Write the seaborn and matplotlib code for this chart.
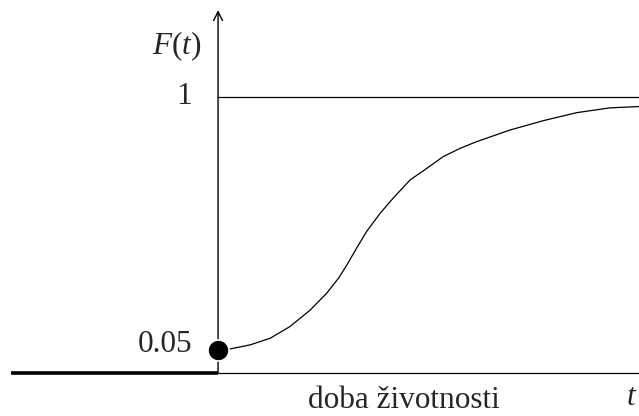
import matplotlib
matplotlib.use("Agg")
import matplotlib.pyplot as plt
import seaborn as sns
import pandas as pd

# curve (t in arbitrary units, F in probability)
t_vals = [0.0, 0.29, 0.76, 1.24, 1.71, 2.19, 2.58, 2.86, 3.06, 3.29, 3.53, 3.85, 4.16,
          4.56, 4.96, 5.35, 5.75, 6.14, 6.94, 7.73, 8.52, 9.31, 10.0]
F_vals = [0.05, 0.054, 0.069, 0.094, 0.138, 0.200, 0.263, 0.319, 0.369, 0.432, 0.495, 0.563, 0.620,
          0.688, 0.732, 0.776, 0.807, 0.832, 0.876, 0.911, 0.941, 0.959, 0.964]
start_value = 0.05
upper_value = 1.0
ytick_labels = ["0.05", "1"]
xlabel_text = "doba životnosti"

sns.set_theme(style="white")
plt.rcParams["font.family"] = ["Liberation Serif", "DejaVu Serif"]
plt.rcParams["mathtext.fontset"] = "custom"
plt.rcParams["mathtext.rm"] = "Liberation Serif"
plt.rcParams["mathtext.it"] = "Liberation Serif:italic"

df = pd.DataFrame({"t": t_vals, "F": F_vals})

fig = plt.figure(figsize=(6.39, 4.16), dpi=100)
ax = fig.add_axes([0, 0, 1, 1])
ax.set_axis_off()

x_min, x_max = -5.18, 10.0
y_min, y_max = -0.198, 1.364
ax.set_xlim(x_min, x_max)
ax.set_ylim(y_min, y_max)
y_base = -0.0364

# main curve and starting point
sns.lineplot(data=df, x="t", y="F", color="black", linewidth=0.9, ax=ax)
sns.scatterplot(x=[0.0], y=[start_value], color="black", s=230, ax=ax, zorder=5)

# horizontal axis: thick part left of zero, thin part right of it
ax.plot([-4.92, 0], [y_base, y_base], color="black", linewidth=2.6, solid_capstyle="butt")
ax.plot([0, x_max], [y_base, y_base], color="black", linewidth=0.9)

# line at F = 1
ax.plot([0, x_max], [upper_value, upper_value], color="black", linewidth=0.9)

# vertical axis with arrow
ax.annotate("", xy=(0, 1.326), xytext=(0, y_base),
            arrowprops=dict(arrowstyle="->", color="black", lw=1.0,
                            shrinkA=0, shrinkB=0, mutation_scale=16))

# labels
fs = 22.5
ax.text(-0.62, upper_value + 0.0, ytick_labels[1], fontsize=fs, ha="right", va="center")
ax.text(-0.62, start_value + 0.022, ytick_labels[0], fontsize=fs, ha="right", va="center")
ax.text(-0.98, 1.19, r"$F(t)$", fontsize=fs, ha="center", va="center")
ax.text(4.42, -0.14, xlabel_text, fontsize=fs, ha="center", va="center")
ax.text(9.83, -0.128, r"$t$", fontsize=fs, ha="center", va="center")

fig.savefig("out.png", dpi=100)
